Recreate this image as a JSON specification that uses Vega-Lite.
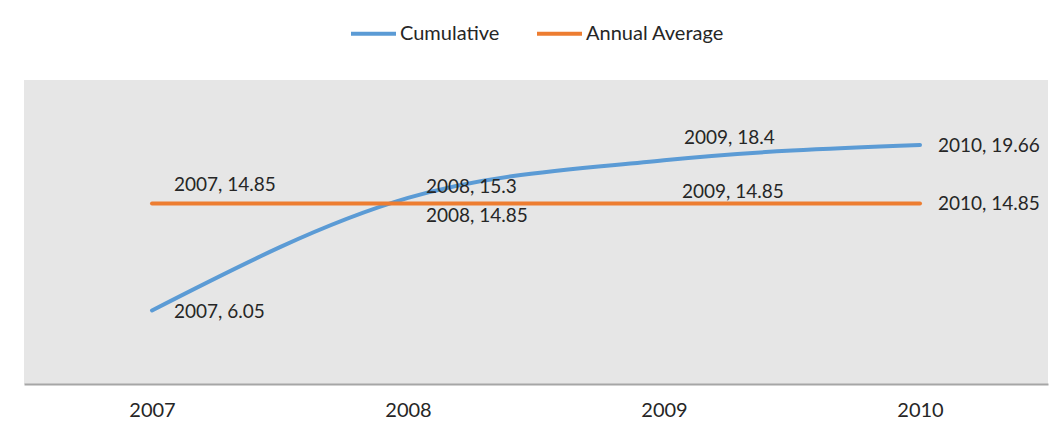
{
  "$schema": "https://vega.github.io/schema/vega-lite/v6.json",
  "autosize": {"type": "none"},
  "width": 1024,
  "height": 304,
  "padding": {"left": 24, "top": 80, "right": 11, "bottom": 46},
  "background": "white",
  "config": {
    "view": {"fill": "#E6E6E6", "stroke": null},
    "font": "Lato",
    "text": {"font": "Lato", "fontSize": 19, "color": "#262626"}
  },
  "data": {
    "values": [
      {"year": "2007", "series": "Cumulative", "value": 6.05},
      {"year": "2008", "series": "Cumulative", "value": 15.3},
      {"year": "2009", "series": "Cumulative", "value": 18.4},
      {"year": "2010", "series": "Cumulative", "value": 19.66},
      {"year": "2007", "series": "Annual Average", "value": 14.85},
      {"year": "2008", "series": "Annual Average", "value": 14.85},
      {"year": "2009", "series": "Annual Average", "value": 14.85},
      {"year": "2010", "series": "Annual Average", "value": 14.85}
    ]
  },
  "transform": [{"calculate": "datum.year + ', ' + datum.value", "as": "label"}],
  "encoding": {
    "x": {
      "field": "year", "type": "ordinal",
      "scale": {"type": "point", "padding": 0.5},
      "axis": {"title": null, "labelAngle": 0, "ticks": false, "grid": false,
               "domainColor": "#A6A6A6", "domainWidth": 2, "labelFontSize": 20,
               "labelColor": "#262626", "labelPadding": 16, "labelFont": "Lato"}
    },
    "y": {
      "field": "value", "type": "quantitative",
      "scale": {"domain": [0, 25], "nice": false, "zero": true},
      "axis": null
    }
  },
  "layer": [
    {
      "mark": {"type": "line", "strokeWidth": 4, "interpolate": "monotone", "strokeCap": "round"},
      "encoding": {
        "color": {
          "field": "series", "type": "nominal",
          "scale": {"domain": ["Cumulative", "Annual Average"], "range": ["#5B9BD5", "#ED7D31"]},
          "legend": {
            "title": null, "orient": "none", "direction": "horizontal",
            "legendX": 325, "legendY": -71,
            "symbolType": "stroke", "symbolSize": 2025, "symbolStrokeWidth": 4,
            "labelFontSize": 20, "labelFont": "Lato", "labelColor": "#262626",
            "labelOffset": 2, "columnPadding": 29
          }
        }
      }
    },
    {
      "transform": [{"filter": "datum.year == '2007' && datum.series == 'Annual Average'"}],
      "mark": {"type": "text", "align": "left", "baseline": "middle", "dx": 22, "dy": -18},
      "encoding": {"text": {"field": "label"}}
    },
    {
      "transform": [{"filter": "datum.year == '2007' && datum.series == 'Cumulative'"}],
      "mark": {"type": "text", "align": "left", "baseline": "middle", "dx": 22, "dy": 2},
      "encoding": {"text": {"field": "label"}}
    },
    {
      "transform": [{"filter": "(datum.year == '2008' && datum.series == 'Cumulative') || (datum.year == '2009' && datum.series == 'Annual Average')"}],
      "mark": {"type": "text", "align": "left", "baseline": "middle", "dx": 18, "dy": -11},
      "encoding": {"text": {"field": "label"}}
    },
    {
      "transform": [{"filter": "datum.year == '2008' && datum.series == 'Annual Average'"}],
      "mark": {"type": "text", "align": "left", "baseline": "middle", "dx": 18, "dy": 13},
      "encoding": {"text": {"field": "label"}}
    },
    {
      "transform": [{"filter": "datum.year == '2009' && datum.series == 'Cumulative'"}],
      "mark": {"type": "text", "align": "left", "baseline": "middle", "dx": 20, "dy": -22},
      "encoding": {"text": {"field": "label"}}
    },
    {
      "transform": [{"filter": "datum.year == '2010'"}],
      "mark": {"type": "text", "align": "left", "baseline": "middle", "dx": 18, "dy": 1},
      "encoding": {"text": {"field": "label"}}
    }
  ]
}
